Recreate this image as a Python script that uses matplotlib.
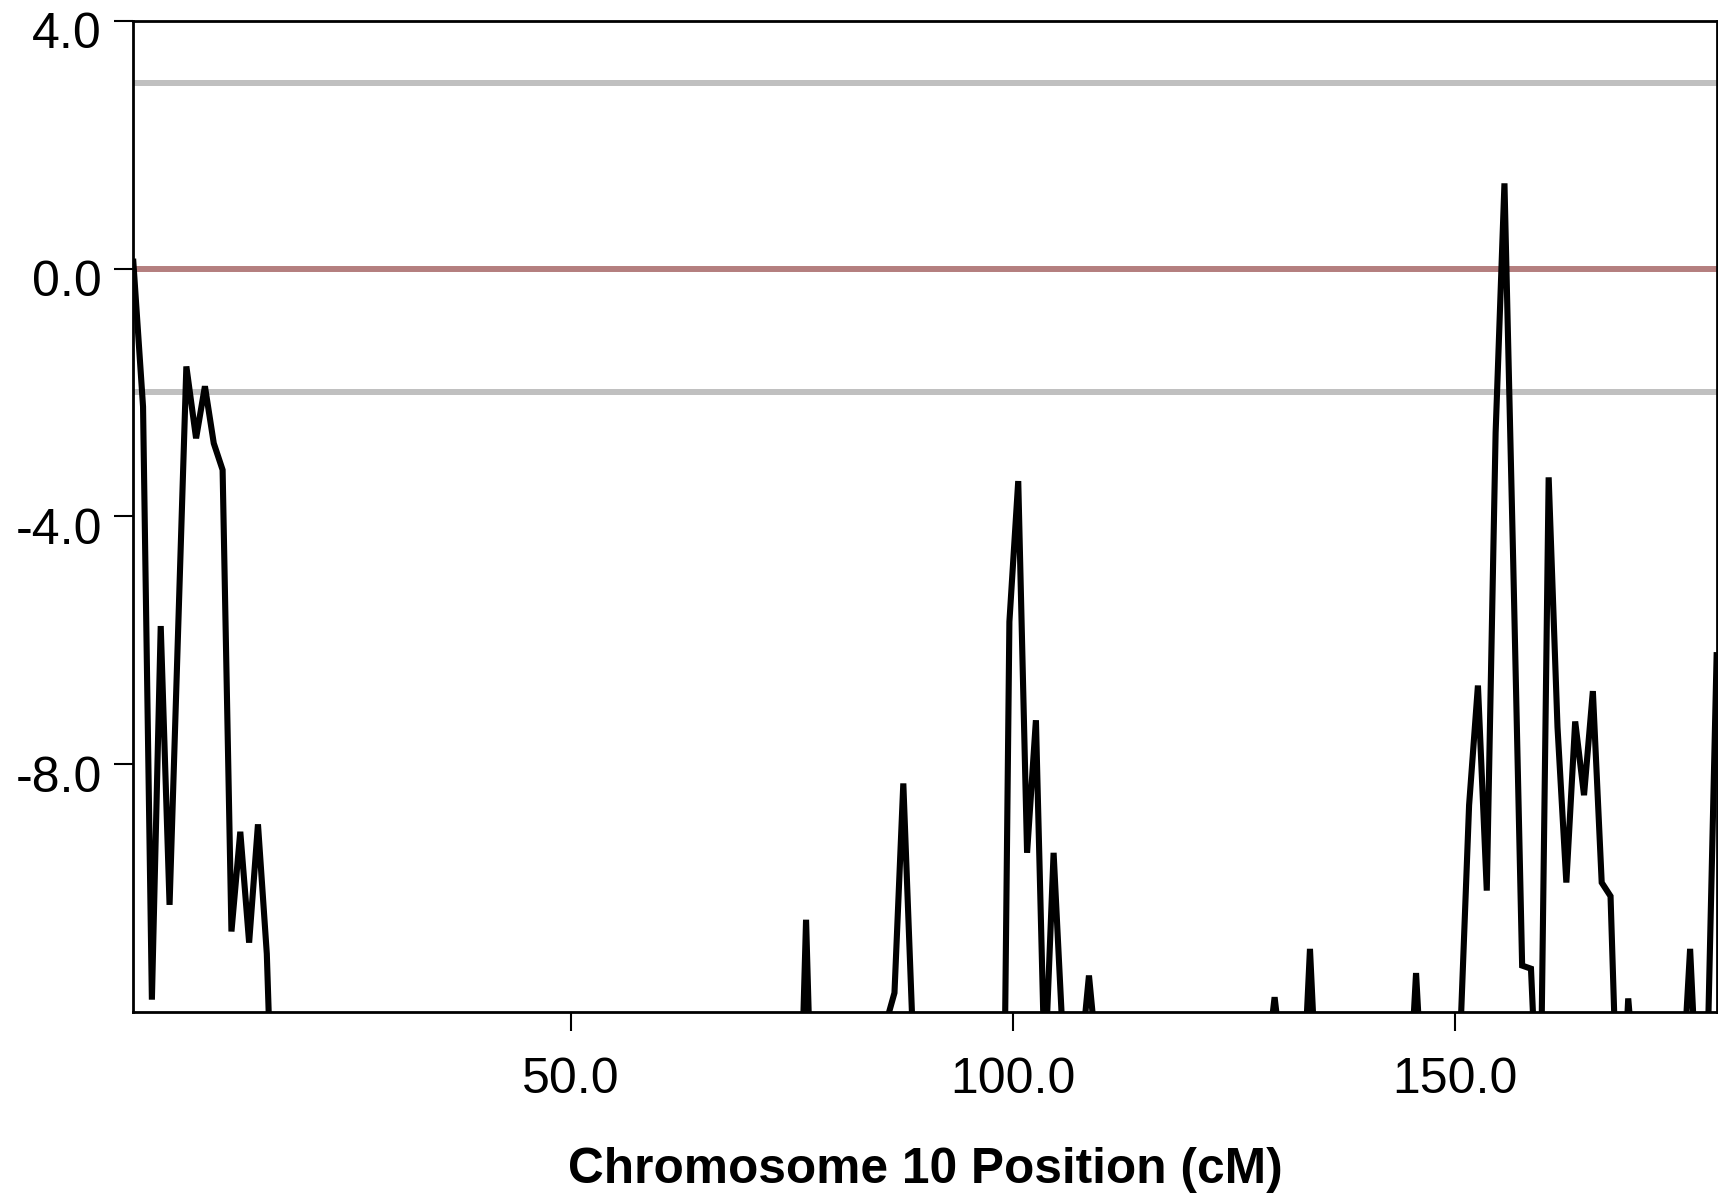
import matplotlib
matplotlib.use("Agg")
import matplotlib.pyplot as plt
from matplotlib.transforms import ScaledTranslation

plt.rcParams['font.family'] = ['Liberation Sans', 'DejaVu Sans']

# scan positions (cM) and score along chromosome 10;
# values under -12 run off the bottom of the axis
position = [0.5, 1.6, 2.6, 3.6, 4.6, 6.5, 7.6, 8.6, 9.6, 10.6,
            11.6, 12.6, 13.6, 14.6, 15.6, 16.6,
            75.6, 76.6, 77.6,
            85.6, 86.6, 87.6, 88.6, 89.6,
            98.6, 99.6, 100.6, 101.6, 102.6, 103.6, 104.6, 105.6, 106.6,
            107.6, 108.6, 109.6,
            128.6, 129.6, 130.6,
            132.6, 133.6, 134.6,
            144.6, 145.6, 146.6,
            149.6, 150.6, 151.6, 152.6, 153.6, 154.6, 155.6, 156.6, 157.6,
            158.6, 159.6, 160.6, 161.6, 162.6, 163.6, 164.6, 165.6, 166.6,
            167.6, 168.6, 169.6, 170.6,
            175.6, 176.6, 177.6, 178.6, 179.6]
score = [0.11, -2.23, -11.8, -5.77, -10.27, -1.58, -2.74, -1.9, -2.82, -3.25,
         -10.70, -9.09, -10.88, -8.97, -11.06, -15.5,
         -15.6, -10.51, -15.6,
         -12.2, -11.69, -8.31, -12.1, -16.0,
         -19.0, -5.70, -3.43, -9.43, -7.29, -13.0, -9.43, -12.3, -16.0,
         -12.9, -11.41, -12.9,
         -13.0, -11.76, -13.0,
         -14.0, -10.98, -14.0,
         -14.0, -11.37, -14.0,
         -16.0, -12.4, -8.66, -6.73, -10.04, -2.65, 1.375, -4.8, -11.25,
         -11.30, -14.5, -3.37, -7.40, -9.91, -7.31, -8.5, -6.82, -9.91,
         -10.13, -14.7, -11.78, -13.5,
         -13.5, -10.98, -14.0, -12.5, -6.24]

# horizontal reference levels
upper_level = 3.0
zero_level = 0.0
lower_level = -2.0

x_ticks = [50.0, 100.0, 150.0]
y_ticks = [4.0, 0.0, -4.0, -8.0]

fig = plt.figure(figsize=(17.18, 11.96), dpi=100)
ax = fig.add_axes([0.0776, 0.1538, 0.9216, 0.8289])

ax.axhline(upper_level, color='#c0c0c0', lw=4.3, zorder=1)
ax.axhline(lower_level, color='#c0c0c0', lw=4.3, zorder=1)
ax.axhline(zero_level, color='#b47f7f', lw=4.3, zorder=1)
ax.plot(position, score, color='black', lw=4.4, solid_joinstyle='miter', zorder=3)

ax.set_xlim(0.5, 179.6)
ax.set_ylim(-12, 4)
ax.set_xticks(x_ticks)
ax.set_xticklabels([f"{t:.1f}" for t in x_ticks])
ax.set_yticks(y_ticks)
ax.set_yticklabels([f"{t:.1f}" for t in y_ticks])

ax.tick_params(axis='both', direction='out', length=13.7, width=1.5,
               labelsize=36, colors='black')
ax.tick_params(axis='x', pad=19)
ax.tick_params(axis='y', pad=9)
for sp in ax.spines.values():
    sp.set_linewidth(2.0)

ax.set_xlabel('Chromosome 10 Position (cM)', fontsize=35.7, fontweight='bold', labelpad=31)

# y labels sit a little below their ticks
shift = ScaledTranslation(0, -0.095, fig.dpi_scale_trans)
for lbl in ax.get_yticklabels():
    lbl.set_transform(lbl.get_transform() + shift)

fig.savefig('out.png', dpi=100)
